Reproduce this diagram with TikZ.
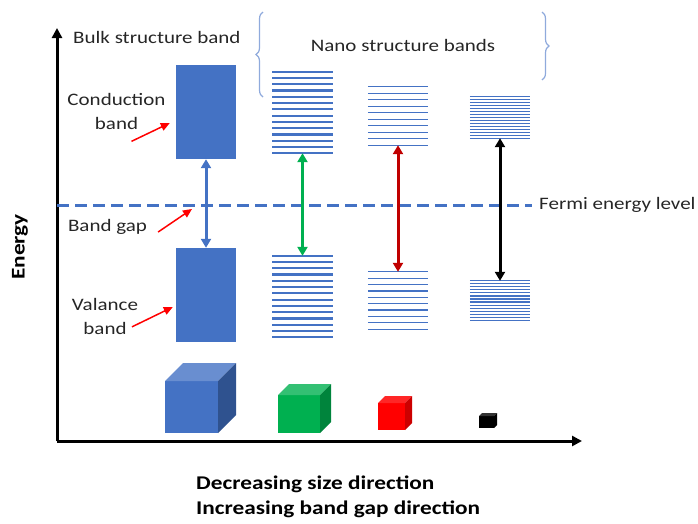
\documentclass[tikz,border=0pt]{standalone}
\usepackage{fontspec}
\setmainfont{Carlito}[FakeStretch=1.2]
\usepackage{xcolor}
\usetikzlibrary{arrows.meta,calc,decorations.pathreplacing}

\definecolor{bandBlue}{HTML}{4472C4}
\definecolor{bandDark}{HTML}{2F528F}
\definecolor{gapGreen}{HTML}{00B050}
\definecolor{gapRed}{HTML}{C00000}
\definecolor{braceBlue}{HTML}{8FAADC}
\definecolor{txtGray}{HTML}{262626}

\begin{document}
\begin{tikzpicture}[x=1pt,y=-1pt,
    txt/.style ={font=\fontsize{17.5}{24}\selectfont, text=txtGray, inner sep=1pt},
    bold/.style ={font=\fontsize{19.4}{25}\selectfont\bfseries, text=black, inner sep=1pt},
    bulk/.style ={rectangle, fill=bandBlue, draw=none, minimum width=60pt, inner sep=0pt},
    stack/.style ={rectangle, draw=none, minimum width=60pt, inner sep=0pt},
    bandline/.style ={draw=bandBlue},
    axis/.style ={draw, line width=3pt, -{Triangle[width=10pt,length=10pt]}},
    gap/.style ={draw, line width=3pt, {Triangle[width=10pt,length=9pt]}-{Triangle[width=10pt,length=9pt]}},
    pointer/.style ={draw=red, line width=1.5pt, -{Triangle[width=8pt,length=9pt]}}]
    \useasboundingbox (0,0) rectangle (698,523);
    % axes
    \coordinate (origin) at (57,441);
    \coordinate (yTip) at (57,28);
    \coordinate (xTip) at (582,441);
    \draw [axis] (origin) -- (yTip);
    \draw [axis] (origin) -- (xTip);
    \node [bold, rotate=90] (energy) at (20,247) {Energy};
    % fermi level
    \node [txt, anchor=west] (fermi) at (538,205) {Fermi energy level};
    \coordinate (fermiStart) at (57,205);
    \draw [bandBlue, line width=3pt, dash pattern=on 12pt off 6pt] (fermiStart) -- ([xshift=-6pt]fermi.west);
    % bulk bands
    \node [bulk, minimum height=94pt] (cbBulk) at (206,112) {};
    \node [bulk, minimum height=94pt] (vbBulk) at (206,295) {};
    % nano bands - name/x/y/height/steps/line width
    \foreach \nm/\cx/\cy/\h/\k/\lw in {cb1/302.5/112.5/81/13/2.2, vb1/302.5/296.5/81/13/2.2,
        cb2/398/116/58/9/1.3, vb2/398/300.5/57/9/1.3,
        cb3/500/117.5/41/14/1.1, vb3/500/300.5/39/13/1.1} {
      \node [stack, minimum height=\h pt] (\nm) at (\cx,\cy) {};
      \foreach \i in {0,...,\k}
        \draw [bandline, line width=\lw pt] ($(\nm.north west)!\i/\k!(\nm.south west)$) -- ($(\nm.north east)!\i/\k!(\nm.south east)$);
    }
    % band gaps
    \path [gap, bandBlue] (cbBulk) -- (vbBulk);
    \path [gap, gapGreen] (cb1) -- (vb1);
    \path [gap, gapRed] (cb2) -- (vb2);
    \path [gap, black] (cb3) -- (vb3);
    % labels
    \node [txt, anchor=west] (bulkLabel) at (72,37) {Bulk structure band};
    \node [txt] (nanoLabel) at (403,45) {Nano structure bands};
    \draw [braceBlue, line width=1.2pt, decorate, decoration={brace, amplitude=7pt}] (263,97) -- (263,12);
    \draw [braceBlue, line width=1.2pt, decorate, decoration={brace, amplitude=7pt}] (542,12) -- (542,80);
    \node [txt, align=center] (cbLabel) at (116.5,111) {Conduction\\band};
    \node [txt] (gapLabel) at (107.5,227) {Band gap};
    \node [txt, align=center] (vbLabel) at (105,316.5) {Valance\\band};
    \coordinate (gapMid) at (192,209);
    \path [pointer] ([xshift=15pt,yshift=-11pt]cbLabel.south) -- ([xshift=-6pt,yshift=-11pt]cbBulk.west);
    \path [pointer] ([xshift=10pt,yshift=-5pt]gapLabel.east) -- (gapMid);
    \path [pointer] ([xshift=27pt,yshift=9pt]vbLabel.south) -- ([xshift=-3pt,yshift=-12pt]vbBulk.west);
    % cubes - x/bottom/width/height/depth/front/top/side
    \foreach \x/\y/\w/\h/\d/\cf/\ct/\cs in {165/433/53/52/18/bandBlue/bandBlue!80!white/bandDark,
        278/433/42/38/11/gapGreen/gapGreen!80!white/gapGreen!75!black,
        378/430/27/27/7/red/red!85!white/red!80!black,
        479/428/15/12/3/black/black!80!white/black} {
      \fill [\cf] (\x,\y) rectangle ++(\w,-\h);
      \fill [\ct] (\x,\y-\h) -- ++(\d,-\d) -- ++(\w,0) -- ++(-\d,\d) -- cycle;
      \fill [\cs] (\x+\w,\y) -- ++(\d,-\d) -- ++(0,-\h) -- ++(-\d,\d) -- cycle;
    }
    % direction text
    \node [bold, anchor=west, align=left] (dirLabel) at (195,497) {Decreasing size direction\\Increasing band gap direction};
  \end{tikzpicture}
\end{document}
